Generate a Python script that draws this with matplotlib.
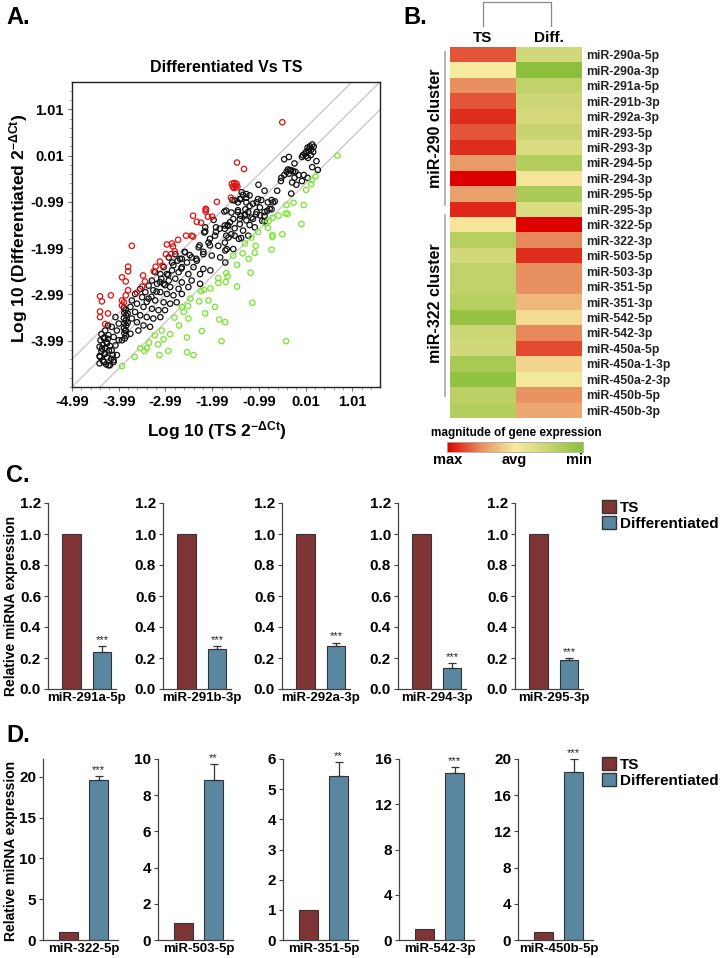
import numpy as np
import matplotlib.pyplot as plt
from matplotlib.colors import LinearSegmentedColormap
from matplotlib.lines import Line2D
from matplotlib.patches import Patch
from matplotlib.ticker import FixedLocator

plt.rcParams['font.family'] = ['Liberation Sans', 'DejaVu Sans']
plt.rcParams['font.weight'] = 'bold'
plt.rcParams['axes.labelweight'] = 'bold'
plt.rcParams['axes.titleweight'] = 'bold'
plt.rcParams['mathtext.fontset'] = 'custom'
plt.rcParams['mathtext.rm'] = 'Liberation Sans'
plt.rcParams['mathtext.it'] = 'Liberation Sans'

# ---------------- data ----------------
# A) scatter, log10 2^-dCt (TS on x, differentiated on y)
red_pts = [(-0.49, 0.73), (-1.46, -0.14), (-1.31, -0.28),
           (-1.57, -0.60), (-1.52, -0.58), (-1.47, -0.60), (-1.55, -0.66), (-1.50, -0.64),
           (-1.45, -0.66), (-1.53, -0.69), (-1.48, -0.68),
           (-1.59, -0.90), (-1.89, -0.99), (-2.13, -1.14), (-2.13, -1.20), (-2.40, -1.29),
           (-2.32, -1.42), (-2.23, -1.44), (-2.08, -1.31), (-1.99, -1.31), (-2.12, -1.16),
           (-2.43, -1.72), (-2.55, -1.72), (-2.40, -1.74), (-2.72, -1.81), (-3.71, -1.94),
           (-2.96, -1.91), (-2.85, -1.89), (-2.83, -1.95), (-2.79, -2.06), (-2.87, -2.12),
           (-2.98, -2.12), (-3.11, -2.28), (-3.20, -2.39), (-3.24, -2.49), (-3.05, -2.37),
           (-3.79, -2.39), (-3.79, -2.49), (-3.92, -2.62), (-3.84, -2.71), (-3.47, -2.58),
           (-3.43, -2.71), (-3.49, -2.82), (-3.60, -2.95), (-3.79, -2.90), (-3.84, -3.01),
           (-3.92, -3.12), (-3.88, -3.16), (-4.16, -3.01), (-4.39, -3.03), (-4.35, -3.14),
           (-4.39, -3.36), (-4.39, -3.48), (-4.22, -3.40), (-4.28, -3.63), (-3.92, -3.23)]

green_pts = [(0.69, 0.01), (0.22, -0.44), (0.14, -0.52), (0.13, -0.61), (0.02, -0.73),
             (-0.03, -1.06), (-0.25, -1.01), (-0.40, -1.06), (-0.42, -1.24), (-0.38, -1.25),
             (-0.57, -1.29), (-0.70, -1.33), (-0.08, -1.47), (-0.78, -1.40), (-0.85, -1.46),
             (-0.80, -1.55), (-1.01, -1.64), (-0.70, -1.71), (-0.49, -1.69), (-0.70, -1.75),
             (-1.15, -1.76), (-1.06, -1.94), (-1.29, -1.89), (-0.72, -2.02), (-1.08, -2.09),
             (-1.34, -2.10), (-1.54, -2.15), (-1.21, -2.22), (-1.46, -2.35), (-1.17, -2.52),
             (-1.69, -2.53), (-1.66, -2.60), (-1.70, -2.72), (-1.46, -2.82), (-1.13, -3.17),
             (-1.71, -3.59), (-0.41, -4.00), (-1.86, -2.64), (-1.86, -2.74), (-2.03, -2.86),
             (-2.17, -2.89), (-2.23, -2.92), (-2.46, -3.08), (-2.27, -3.14), (-2.07, -3.12),
             (-1.93, -3.26), (-2.14, -3.40), (-2.51, -3.24), (-2.64, -3.26), (-2.60, -3.37),
             (-2.50, -3.51), (-2.70, -3.66), (-2.80, -3.49), (-1.84, -3.53), (-2.21, -3.78),
             (-1.79, -4.00), (-2.89, -3.85), (-2.53, -3.92), (-3.07, -3.77), (-3.22, -3.87),
             (-3.03, -3.96), (-3.15, -4.07), (-3.34, -4.03), (-3.39, -4.15), (-3.44, -4.21),
             (-3.53, -4.15), (-2.93, -4.21), (-3.12, -4.30), (-2.53, -4.24), (-2.39, -4.30),
             (-3.65, -4.34), (-3.92, -4.54)]

black_pts = [(0.15, 0.25), (0.10, 0.21), (0.05, 0.18), (0.13, 0.14), (0.07, 0.11), (0.02, 0.09),
             (-0.01, 0.05), (-0.05, 0.02), (-0.07, -0.02), (0.02, 0.00), (0.17, 0.09), (0.12, 0.02),
             (0.06, -0.04), (0.18, 0.20), (0.09, 0.16),
             (-0.35, -0.02), (-0.45, -0.07), (-0.23, -0.16), (0.24, -0.11), (0.15, -0.24),
             (0.27, -0.30), (-0.37, -0.29), (-0.30, -0.31), (-0.40, -0.34), (-0.33, -0.30),
             (-0.26, -0.33), (-0.45, -0.41), (-0.51, -0.47), (-0.35, -0.38), (-0.21, -0.34),
             (-0.14, -0.41), (-0.03, -0.41), (0.05, -0.47), (-0.23, -0.47), (-0.28, -0.57),
             (-0.19, -0.62), (-0.07, -0.54), (-0.52, -0.54), (-0.60, -0.75), (-0.30, -0.81),
             (-1.00, -0.62), (-0.87, -0.75), (-1.33, -0.84), (-1.26, -0.90), (-1.38, -0.93),
             (-1.44, -1.00), (-1.56, -0.95), (-1.01, -0.93), (-0.94, -0.95), (-0.72, -0.95),
             (-0.65, -0.98), (-0.80, -1.00), (-1.12, -1.03), (-0.97, -1.11), (-1.19, -1.08),
             (-1.28, -1.15), (-1.44, -1.17), (-1.58, -1.22), (-1.69, -1.18), (-1.29, -1.26),
             (-1.38, -1.29), (-1.05, -1.26), (-1.15, -1.33), (-0.87, -1.29), (-0.72, -1.15),
             (-0.81, -1.18), (-0.92, -1.40), (-1.19, -1.49), (-1.08, -1.54), (-1.40, -1.47),
             (-1.51, -1.56), (-1.65, -1.51), (-1.33, -1.61), (-1.58, -1.69), (-0.87, -1.41),
             (-1.69, -1.72), (-1.51, -1.72), (-1.42, -1.79), (-1.37, -1.77), (-1.22, -1.72),
             (-1.72, -1.87), (-1.71, -2.04), (-1.54, -2.01),
             (-2.04, -1.79), (-1.91, -1.64), (-1.83, -1.57), (-1.72, -1.50), (-1.61, -1.43),
             (-1.54, -1.36), (-1.44, -1.21), (-1.40, -1.36), (-1.29, -1.28), (-1.22, -1.21),
             (-1.26, -1.39), (-1.12, -1.36), (-1.04, -1.21), (-0.97, -1.28), (-0.87, -1.21),
             (-0.76, -1.14), (-0.69, -1.00), (-1.04, -1.00), (-1.19, -0.85), (-1.26, -1.00),
             (-1.40, -0.93), (-1.51, -0.96), (-1.36, -0.78), (-1.26, -0.82), (-1.72, -1.57),
             (-2.04, -1.93), (-2.18, -2.07), (-2.26, -1.93), (-2.33, -2.22), (-2.47, -2.14),
             (-2.58, -2.07), (-2.68, -2.22), (-2.82, -2.36), (-2.65, -2.43), (-2.93, -2.57),
             (-3.11, -2.72), (-3.00, -2.79), (-3.18, -2.93), (-3.29, -3.04), (-3.39, -3.15),
             (-1.73, -1.20), (-1.96, -1.38), (-2.14, -1.54), (-1.91, -1.54), (-1.66, -1.49),
             (-2.16, -1.65),
             (-2.14, -1.63), (-1.93, -1.72), (-1.64, -1.76), (-2.07, -1.87), (-1.86, -1.94),
             (-1.68, -2.01), (-2.28, -1.97), (-2.18, -2.12), (-2.00, -2.15), (-1.82, -2.19),
             (-1.71, -2.30), (-2.32, -2.26), (-2.43, -2.19), (-2.57, -2.08), (-2.53, -2.30),
             (-2.64, -2.22), (-2.78, -2.12), (-2.73, -2.26), (-2.85, -2.30), (-2.92, -2.19),
             (-2.64, -2.40), (-2.39, -2.40), (-2.18, -2.44), (-2.03, -2.47), (-2.25, -2.55),
             (-2.50, -2.55), (-2.71, -2.51), (-2.85, -2.47), (-3.03, -2.40), (-2.96, -2.55),
             (-3.10, -2.55), (-3.21, -2.51), (-3.08, -2.65), (-2.92, -2.69), (-2.78, -2.65),
             (-2.64, -2.73), (-2.43, -2.69), (-2.25, -2.76), (-2.50, -2.83), (-2.71, -2.87),
             (-2.89, -2.83), (-3.03, -2.76), (-3.17, -2.76), (-3.28, -2.69), (-3.35, -2.80),
             (-3.25, -2.90), (-3.10, -2.94), (-2.96, -2.98), (-2.82, -3.01), (-2.64, -2.98),
             (-3.42, -2.94), (-3.53, -2.87), (-3.64, -2.98), (-3.49, -3.05), (-3.35, -3.08),
             (-3.21, -3.12), (-3.03, -3.16), (-2.89, -3.19), (-2.75, -3.16), (-3.71, -3.12),
             (-3.60, -3.19), (-3.46, -3.26), (-3.28, -3.30), (-3.14, -3.33), (-3.00, -3.33),
             (-3.74, -3.26), (-3.64, -3.37), (-3.53, -3.44), (-3.39, -3.48), (-3.25, -3.51),
             (-3.10, -3.48), (-3.71, -3.51), (-3.60, -3.59), (-3.46, -3.66), (-3.32, -3.69),
             (-4.06, -3.48), (-3.99, -3.62), (-4.14, -3.69), (-4.03, -3.77), (-4.10, -3.91),
             (-3.99, -3.98), (-4.06, -4.09), (-4.14, -4.20), (-4.03, -4.30), (-4.10, -4.41),
             (-4.21, -4.52), (-4.31, -4.45), (-4.39, -4.34), (-4.28, -4.27), (-4.35, -4.16),
             (-4.24, -4.05), (-4.31, -3.94), (-4.21, -3.87), (-4.28, -3.77), (-4.22, -3.66),
             (-3.85, -3.77), (-3.57, -3.77), (-3.74, -3.84), (-3.92, -3.98),
             (-3.88, -3.28), (-3.84, -3.33), (-3.87, -3.39), (-3.83, -3.44), (-3.88, -3.50),
             (-3.84, -3.55), (-3.87, -3.61), (-3.83, -3.66), (-3.88, -3.72), (-3.84, -3.77),
             (-3.87, -3.83), (-3.83, -3.88), (-3.86, -3.94), (-3.80, -3.60), (-3.80, -3.40),
             (-4.36, -3.85), (-4.30, -3.92), (-4.38, -3.98), (-4.25, -4.02), (-4.33, -4.08),
             (-4.40, -4.12), (-4.28, -4.15), (-4.20, -4.20), (-4.36, -4.22), (-4.30, -4.28),
             (-4.40, -4.32), (-4.24, -4.35), (-4.15, -4.38), (-4.33, -4.42), (-4.40, -4.48),
             (-4.26, -4.50), (-4.18, -4.52), (-4.10, -4.45), (-4.12, -4.30), (-4.18, -4.10),
             (-4.22, -3.95)]

scatter_ticks = [-4.99, -3.99, -2.99, -1.99, -0.99, 0.01, 1.01]
fold_offset = 0.6

# B) heatmap (0 = max / red, 0.5 = avg, 1 = min / green)
mirnas = ['miR-290a-5p', 'miR-290a-3p', 'miR-291a-5p', 'miR-291b-3p', 'miR-292a-3p',
          'miR-293-5p', 'miR-293-3p', 'miR-294-5p', 'miR-294-3p', 'miR-295-5p',
          'miR-295-3p', 'miR-322-5p', 'miR-322-3p', 'miR-503-5p', 'miR-503-3p',
          'miR-351-5p', 'miR-351-3p', 'miR-542-5p', 'miR-542-3p', 'miR-450a-5p',
          'miR-450a-1-3p', 'miR-450a-2-3p', 'miR-450b-5p', 'miR-450b-3p']
ts_vals = [0.15, 0.50, 0.25, 0.15, 0.08, 0.15, 0.08, 0.28, 0.00, 0.30, 0.07, 0.48,
           0.82, 0.70, 0.77, 0.77, 0.82, 0.95, 0.72, 0.70, 0.88, 0.97, 0.80, 0.83]
diff_vals = [0.70, 1.00, 0.77, 0.72, 0.68, 0.74, 0.66, 0.83, 0.48, 0.86, 0.66, 0.00,
             0.24, 0.08, 0.25, 0.25, 0.36, 0.46, 0.24, 0.13, 0.44, 0.52, 0.26, 0.32]

# C) downregulated miR-290 cluster members
c_labels = ['miR-291a-5p', 'miR-291b-3p', 'miR-292a-3p', 'miR-294-3p', 'miR-295-3p']
c_ts = [1.0, 1.0, 1.0, 1.0, 1.0]
c_diff = [0.24, 0.26, 0.275, 0.135, 0.19]
c_err = [0.04, 0.015, 0.025, 0.035, 0.012]
c_stars = ['***', '***', '***', '***', '***']
c_yticks = [0.0, 0.2, 0.4, 0.6, 0.8, 1.0, 1.2]

# D) upregulated miR-322 cluster members
d_labels = ['miR-322-5p', 'miR-503-5p', 'miR-351-5p', 'miR-542-3p', 'miR-450b-5p']
d_ts = [1.0, 0.95, 1.0, 1.0, 0.9]
d_diff = [19.6, 8.85, 5.45, 14.8, 18.6]
d_err = [0.5, 0.9, 0.45, 0.5, 1.4]
d_stars = ['***', '**', '**', '***', '***']
d_yticks = [[0, 5, 10, 15, 20], [0, 2, 4, 6, 8, 10], [0, 1, 2, 3, 4, 5, 6],
            [0, 4, 8, 12, 16], [0, 4, 8, 12, 16, 20]]
d_ymax = [22.2, 10, 6, 16, 20]

ts_col = '#7f3535'
diff_col = '#5a87a0'

# ---------------- layout helpers (pixel -> figure fraction) ----------------
W, H = 723, 958
def fx(px):
    return px / W
def fy(py):
    return 1 - py / H
def box(l, t, r, b):
    return [fx(l), fy(b), (r - l) / W, (b - t) / H]

fig = plt.figure(figsize=(7.23, 9.58), dpi=100)

# ---------------- A: scatter ----------------
ax = fig.add_axes(box(72, 82, 380, 387))
lim = (-4.99, 1.6)
ax.set_xlim(lim)
ax.set_ylim(lim)
for off in (-fold_offset, 0, fold_offset):
    ax.plot([lim[0], lim[1]], [lim[0] + off, lim[1] + off], color='#c4c4c4', lw=0.9, zorder=1)
for pts, col in ((black_pts, '#111111'), (red_pts, '#e01010'), (green_pts, '#76e62c')):
    px = [p[0] for p in pts]
    py = [p[1] for p in pts]
    ax.scatter(px, py, s=15, facecolors='none', edgecolors=col, linewidths=0.9, zorder=3)
ax.set_xticks(scatter_ticks)
ax.set_xticklabels(['%.2f' % t for t in scatter_ticks])
ax.set_yticks(scatter_ticks[1:])
ax.set_yticklabels(['%.2f' % t for t in scatter_ticks[1:]])
minor = list(np.arange(-4.99, 1.6, 0.2))
ax.xaxis.set_minor_locator(FixedLocator(minor))
ax.yaxis.set_minor_locator(FixedLocator(minor))
ax.tick_params(which='major', length=3, color='#777777', labelsize=10.5, pad=3)
ax.tick_params(which='minor', length=2, color='#999999')
for s in ax.spines.values():
    s.set_color('#222222')
    s.set_linewidth(1.0)
ax.set_title('Differentiated Vs TS', fontsize=11.5, fontweight='bold', pad=7)
ax.set_xlabel(r'Log 10 (TS 2$^{-\Delta Ct}$)', fontsize=12.5, fontweight='bold')
ax.set_ylabel(r'Log 10 (Differentiated 2$^{-\Delta Ct}$)', fontsize=12.5, fontweight='bold')
ax.xaxis.set_label_coords(0.47, -0.105)
ax.yaxis.set_label_coords(-0.135, 0.52)

# ---------------- B: heatmap ----------------
cmap = LinearSegmentedColormap.from_list(
    'expr', ['#dc0000', '#e8905f', '#f8eca0', '#c8d470', '#8cc03c'])
axh = fig.add_axes(box(450, 47, 582, 418))
hm = np.column_stack([ts_vals, diff_vals])
axh.imshow(hm, cmap=cmap, vmin=0, vmax=1, aspect='auto', interpolation='nearest')
axh.set_yticks(range(len(mirnas)))
axh.set_yticklabels(mirnas)
axh.yaxis.tick_right()
axh.tick_params(axis='y', length=0, labelsize=8.8, pad=3, labelcolor='#222222')
axh.set_xticks([])
for s in axh.spines.values():
    s.set_visible(False)
axh.text(0, -0.6, 'TS', ha='center', va='bottom', fontsize=11)
axh.text(1, -0.6, 'Diff.', ha='center', va='bottom', fontsize=11)

# dendrogram bracket
fig.add_artist(Line2D([fx(483), fx(483), fx(551), fx(551)], [fy(26), fy(2), fy(2), fy(26)],
                      color='#888888', lw=0.9, transform=fig.transFigure))
# cluster brackets
fig.add_artist(Line2D([fx(445), fx(445)], [fy(52), fy(205)], color='#b0b0b0', lw=1.3,
                      transform=fig.transFigure))
fig.add_artist(Line2D([fx(445), fx(445)], [fy(215), fy(396)], color='#b0b0b0', lw=1.3,
                      transform=fig.transFigure))
fig.text(fx(436), fy(128), 'miR-290 cluster', rotation=90, ha='center', va='center', fontsize=11.5)
fig.text(fx(436), fy(303), 'miR-322 cluster', rotation=90, ha='center', va='center', fontsize=11.5)

# colour key
cax = fig.add_axes(box(447, 442, 583, 452))
cax.imshow(np.linspace(0, 1, 256).reshape(1, -1), cmap=cmap, aspect='auto')
cax.set_xticks([])
cax.set_yticks([])
for s in cax.spines.values():
    s.set_color('#aaaaaa')
    s.set_linewidth(0.6)
fig.text(fx(516), fy(433), 'magnitude of gene expression', ha='center', va='center', fontsize=8.5)
for lab, xp in (('max', 448), ('avg', 514), ('min', 579)):
    fig.text(fx(xp), fy(460), lab, ha='center', va='center', fontsize=10.5)

# ---------------- C and D: bar panels ----------------
def bar_panel(rect, ts, dv, de, star, label, ylim, yticks, fmt, xlim, width):
    a = fig.add_axes(rect)
    a.bar([0, 1], [ts, dv], width=width, color=[ts_col, diff_col],
          edgecolor='#333333', linewidth=0.8, zorder=2)
    a.errorbar(1, dv, yerr=[[0], [de]], fmt='none', ecolor='#333333',
               elinewidth=0.9, capsize=3, capthick=0.9, zorder=3)
    a.text(1, dv + de + ylim * 0.005, star, ha='center', va='bottom',
           fontsize=8, fontweight='normal', color='#222222')
    a.set_xlim(xlim)
    a.set_ylim(0, ylim)
    a.set_yticks(yticks)
    a.set_yticklabels([fmt % t for t in yticks])
    a.set_xticks([0.5])
    a.set_xticklabels([label])
    a.tick_params(axis='x', length=0, labelsize=9.5, pad=2)
    a.tick_params(axis='y', length=3, width=0.8, color='#444444', labelsize=11, pad=2)
    for k in ('top', 'right'):
        a.spines[k].set_visible(False)
    for k in ('left', 'bottom'):
        a.spines[k].set_color('#444444')
        a.spines[k].set_linewidth(0.9)
    return a

c_left = [48, 163, 282, 398, 515]
for i in range(5):
    bar_panel(box(c_left[i], 503, c_left[i] + 68, 689), c_ts[i], c_diff[i], c_err[i],
              c_stars[i], c_labels[i], 1.2, c_yticks, '%.1f', (-0.77, 1.46), 0.62)

d_left = [43, 158, 283, 399, 518]
for i in range(5):
    bar_panel(box(d_left[i], 759, d_left[i] + 75, 940), d_ts[i], d_diff[i], d_err[i],
              d_stars[i], d_labels[i], d_ymax[i], d_yticks[i], '%d', (-0.85, 1.65), 0.66)

fig.text(fx(11), fy(606), 'Relative miRNA expression', rotation=90, ha='center', va='center',
         fontsize=10)
fig.text(fx(11), fy(851), 'Relative miRNA expression', rotation=90, ha='center', va='center',
         fontsize=10)

handles = [Patch(facecolor=ts_col, edgecolor='#333333'),
           Patch(facecolor=diff_col, edgecolor='#333333')]
for ytop in (500, 757):
    fig.legend(handles, ['TS', 'Differentiated'], loc='upper left',
               bbox_to_anchor=(fx(602), fy(ytop)), frameon=False, fontsize=11,
               handlelength=0.9, handleheight=0.9, handletextpad=0.3,
               labelspacing=0.1, borderaxespad=0, borderpad=0)

# panel letters
for lab, xp, yp in (('A.', 6, 18), ('B.', 403, 18), ('C.', 6, 475), ('D.', 6, 735)):
    fig.text(fx(xp), fy(yp), lab, fontsize=17, ha='left', va='center')

fig.savefig('out.png', dpi=100)
